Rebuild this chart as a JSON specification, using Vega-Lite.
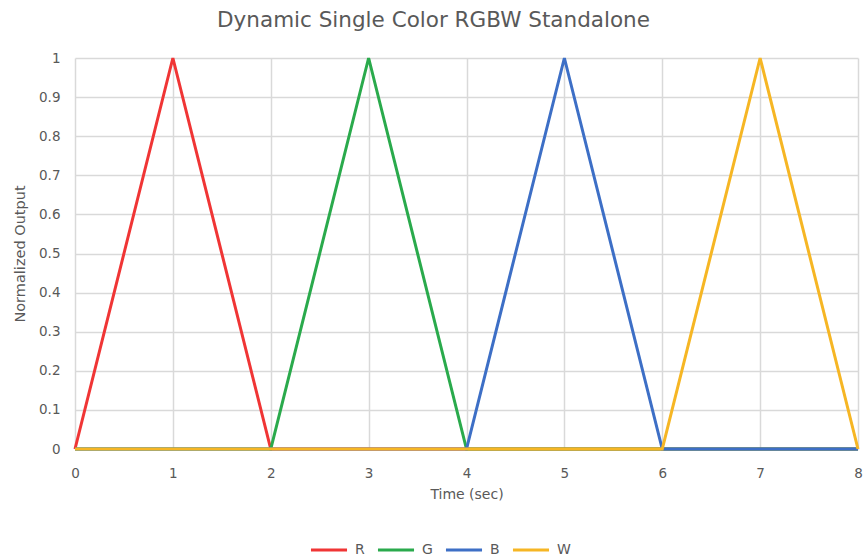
{
  "$schema": "https://vega.github.io/schema/vega-lite/v6.json",
  "autosize": {"type": "none"},
  "width": 783,
  "height": 391,
  "padding": {"left": 75, "top": 58, "right": 7, "bottom": 109},
  "background": "white",
  "title": {
    "text": "Dynamic Single Color RGBW Standalone",
    "font": "DejaVu Sans",
    "fontSize": 21.5,
    "fontWeight": "normal",
    "color": "#595959",
    "anchor": "middle",
    "dx": -33,
    "offset": 20
  },
  "data": {
    "values": [
      {"t": 0, "v": 0, "s": "R"}, {"t": 1, "v": 1, "s": "R"}, {"t": 2, "v": 0, "s": "R"}, {"t": 3, "v": 0, "s": "R"}, {"t": 4, "v": 0, "s": "R"}, {"t": 5, "v": 0, "s": "R"}, {"t": 6, "v": 0, "s": "R"}, {"t": 7, "v": 0, "s": "R"}, {"t": 8, "v": 0, "s": "R"},
      {"t": 0, "v": 0, "s": "G"}, {"t": 1, "v": 0, "s": "G"}, {"t": 2, "v": 0, "s": "G"}, {"t": 3, "v": 1, "s": "G"}, {"t": 4, "v": 0, "s": "G"}, {"t": 5, "v": 0, "s": "G"}, {"t": 6, "v": 0, "s": "G"}, {"t": 7, "v": 0, "s": "G"}, {"t": 8, "v": 0, "s": "G"},
      {"t": 0, "v": 0, "s": "B"}, {"t": 1, "v": 0, "s": "B"}, {"t": 2, "v": 0, "s": "B"}, {"t": 3, "v": 0, "s": "B"}, {"t": 4, "v": 0, "s": "B"}, {"t": 5, "v": 1, "s": "B"}, {"t": 6, "v": 0, "s": "B"}, {"t": 7, "v": 0, "s": "B"}, {"t": 8, "v": 0, "s": "B"},
      {"t": 0, "v": 0, "s": "W"}, {"t": 1, "v": 0, "s": "W"}, {"t": 2, "v": 0, "s": "W"}, {"t": 3, "v": 0, "s": "W"}, {"t": 4, "v": 0, "s": "W"}, {"t": 5, "v": 0, "s": "W"}, {"t": 6, "v": 0, "s": "W"}, {"t": 7, "v": 1, "s": "W"}, {"t": 8, "v": 0, "s": "W"}
    ]
  },
  "mark": {"type": "line", "strokeWidth": 3},
  "encoding": {
    "x": {
      "field": "t",
      "type": "quantitative",
      "scale": {"domain": [0, 8], "nice": false},
      "axis": {
        "title": "Time (sec)",
        "values": [0, 1, 2, 3, 4, 5, 6, 7, 8],
        "format": "d",
        "domain": false,
        "ticks": false,
        "labelFlush": false,
        "labelPadding": 17,
        "labelFont": "DejaVu Sans",
        "labelFontSize": 13.5,
        "labelColor": "#595959",
        "titleFont": "DejaVu Sans",
        "titleFontSize": 14,
        "titleFontWeight": "normal",
        "titleColor": "#595959",
        "titlePadding": 8,
        "gridColor": "#d9d9d9",
        "gridWidth": 1.5
      }
    },
    "y": {
      "field": "v",
      "type": "quantitative",
      "scale": {"domain": [0, 1], "nice": false},
      "axis": {
        "title": "Normalized Output",
        "values": [0, 0.1, 0.2, 0.3, 0.4, 0.5, 0.6, 0.7, 0.8, 0.9, 1],
        "format": ".1~f",
        "domain": false,
        "ticks": false,
        "labelPadding": 15,
        "labelFont": "DejaVu Sans",
        "labelFontSize": 13.5,
        "labelColor": "#595959",
        "titleFont": "DejaVu Sans",
        "titleFontSize": 14.5,
        "titleFontWeight": "normal",
        "titleColor": "#595959",
        "titlePadding": 11,
        "gridColor": "#d9d9d9",
        "gridWidth": 1.5
      }
    },
    "color": {
      "field": "s",
      "type": "nominal",
      "sort": ["R", "G", "B", "W"],
      "scale": {"domain": ["R", "G", "B", "W"], "range": ["#F03535", "#2AAA4C", "#3D6FC6", "#F6B624"]},
      "legend": {
        "title": null,
        "orient": "none",
        "direction": "horizontal",
        "legendX": 234,
        "legendY": 472,
        "symbolType": "stroke",
        "symbolSize": 1300,
        "symbolStrokeWidth": 3,
        "labelFont": "DejaVu Sans",
        "labelFontSize": 14,
        "labelColor": "#595959",
        "labelOffset": 6,
        "columnPadding": 6
      }
    }
  },
  "config": {"view": {"stroke": null}}
}
